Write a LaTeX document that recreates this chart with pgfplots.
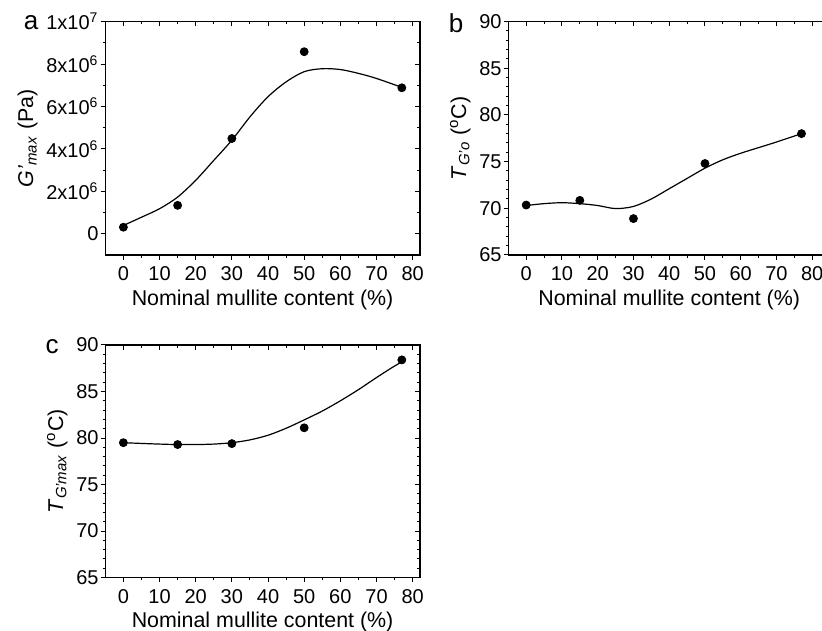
\documentclass[border=0pt]{standalone}
\usepackage{pgfplots}
\pgfplotsset{compat=1.18}
\usepackage{fontspec}
\setmainfont{Liberation Sans}
\begin{document}
\begin{tikzpicture}[x=1pt,y=1pt]
\useasboundingbox (0,0) rectangle (411,315);
\clip (0,0) rectangle (411,315);
\pgfplotsset{
  base/.style={scale only axis, anchor=south west, clip=false,
    axis line style={black, line width=0.6pt},
    tick style={black, line width=0.5pt},
    major tick length=2.4pt, minor tick length=1.4pt,
    tick align=outside, xtick pos=bottom, ytick pos=left,
    xmin=-5, xtick={0,10,...,80}, minor x tick num=1,
    ticklabel style={font=\fontsize{10}{11}\selectfont, black},
    yticklabel style={inner xsep=0.8pt},
    label style={font=\fontsize{10.7}{12}\selectfont, black},
    xlabel style={yshift=2.6pt},
    /pgf/number format/assume math mode=true,
    xlabel={Nominal mullite content (\%)},
    scaled y ticks=false},
  mirror/.style={scale only axis, anchor=south west,
    axis line style={black, line width=0.6pt},
    tick style={black, line width=0.5pt},
    major tick length=2.4pt, minor tick length=1.4pt,
    tick align=inside, xtick pos=top, ytick pos=right,
    xmin=-5, xtick={0,10,...,80}, minor x tick num=1,
    scaled y ticks=false, scaled x ticks=false,
    xticklabels={}, yticklabels={}},
  pts/.style={only marks, mark=*, mark size=2pt, black},
  fit/.style={black, line width=0.6pt, smooth, no marks}
}
% ---------- panel a
\begin{axis}[base, at={(52.65pt,187.5pt)}, width=157.3pt, height=116.7pt,
  xmax=82, ymin=-1000000, ymax=10000000,
  ytick={0,2000000,4000000,6000000,8000000,10000000},
  minor y tick num=1,
  yticklabels={0,2x10\textsuperscript{6},4x10\textsuperscript{6},6x10\textsuperscript{6},8x10\textsuperscript{6},1x10\textsuperscript{7}},
  ylabel={\textit{G'}\textsubscript{\textit{max}} (Pa)}]
\addplot[fit] coordinates {(0,390000) (5,780000) (10,1180000) (15,1730000) (20,2520000) (25,3460000) (30,4410000) (35,5510000) (40,6460000) (45,7160000) (50,7640000) (55,7780000) (60,7740000) (65,7560000) (70,7320000) (77,6900000)};
\addplot[pts] coordinates {(0,310000) (15,1340000) (30,4490000) (50,8580000) (77,6880000)};
\end{axis}
\begin{axis}[mirror, at={(52.65pt,187.5pt)}, width=157.3pt, height=116.7pt,
  xmax=82, ymin=-1000000, ymax=10000000,
  ytick={0,2000000,4000000,6000000,8000000,10000000}, minor y tick num=1]
\end{axis}
% ---------- panel b
\begin{axis}[base, at={(254.15pt,187.5pt)}, width=160.9pt, height=116.7pt,
  xmax=85, ymin=65, ymax=90, ytick={65,70,...,90}, minor y tick num=4,
  ylabel={\textit{T}\textsubscript{\textit{G'o}} (\textsuperscript{o}C)}]
\addplot[fit] coordinates {(0,70.3) (5,70.5) (10,70.6) (15,70.5) (20,70.3) (25,69.97) (30,70.2) (35,71.0) (40,72.1) (45,73.2) (50,74.3) (55,75.2) (60,75.9) (65,76.5) (70,77.1) (77,78.0)};
\addplot[pts] coordinates {(0,70.35) (15,70.85) (30,68.9) (50,74.8) (77,78.0)};
\end{axis}
\begin{axis}[mirror, at={(254.15pt,187.5pt)}, width=160.9pt, height=116.7pt,
  xmax=85, ymin=65, ymax=90, ytick={65,70,...,90}, minor y tick num=4]
\end{axis}
% ---------- panel c
\begin{axis}[base, at={(52.65pt,26.2pt)}, width=157.3pt, height=116.3pt,
  xmax=82, ymin=65, ymax=90, ytick={65,70,...,90}, minor y tick num=4,
  ylabel={\textit{T}\textsubscript{\textit{G'max}} (\textsuperscript{o}C)}]
\addplot[fit] coordinates {(0,79.5) (5,79.42) (10,79.35) (15,79.3) (20,79.3) (25,79.35) (30,79.5) (35,79.8) (40,80.3) (45,81.05) (50,81.95) (55,82.9) (60,84.0) (65,85.2) (70,86.5) (74,87.5) (77,88.2)};
\addplot[pts] coordinates {(0,79.5) (15,79.3) (30,79.4) (50,81.1) (77,88.4)};
\end{axis}
\begin{axis}[mirror, at={(52.65pt,26.2pt)}, width=157.3pt, height=116.3pt,
  xmax=82, ymin=65, ymax=90, ytick={65,70,...,90}, minor y tick num=4]
\end{axis}
% panel letters
\node[font=\fontsize{13}{14}\selectfont] at (15.5,303.5) {a};
\node[font=\fontsize{13}{14}\selectfont] at (228,303.5) {b};
\node[font=\fontsize{13}{14}\selectfont] at (26,141.5) {c};
\end{tikzpicture}
\end{document}
